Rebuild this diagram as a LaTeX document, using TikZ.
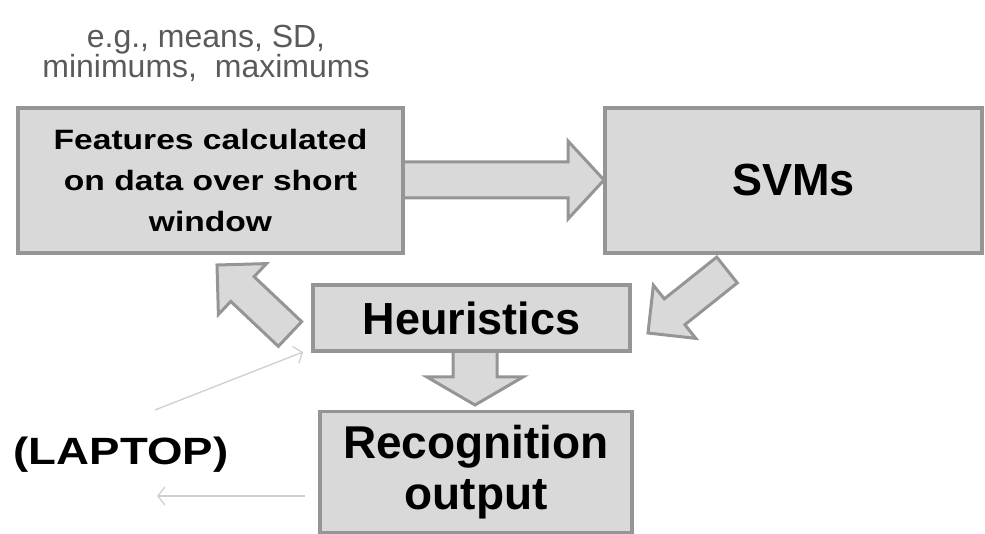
\documentclass[tikz,border=0pt]{standalone}
\usepackage{fontspec}
\setmainfont{Liberation Sans}
\newfontfamily\widesans[FakeStretch=1.2]{Liberation Sans}
\usetikzlibrary{calc,arrows.meta}
\pgfdeclarelayer{background}
\pgfsetlayers{background,main}
\definecolor{boxfill}{HTML}{D9D9D9}
\definecolor{boxline}{HTML}{959595}
\definecolor{notegray}{HTML}{5A5A5A}
\definecolor{thinline}{HTML}{CFCFCF}
\tikzset{
  stepbox/.style={draw=boxline, fill=boxfill, line width=3.5pt, inner sep=0pt,
    align=center},
  blockarrow/.style={draw=boxline, fill=boxfill, line width=3pt, line join=miter},
  faintarrow/.style={draw=thinline, line width=1.3pt,
    -{Straight Barb[length=7pt,width=18pt,line width=1.3pt]}},
}
% block arrow: tail, tip, half body width, half head width, head length
\newcommand\blockarr[5]{%
  \coordinate (ba-base) at ($(#2)!#5!(#1)$);
  \draw[blockarrow] ($(#1)!#3!90:(#2)$) -- ($(ba-base)!#3!90:(#2)$)
    -- ($(ba-base)!#4!90:(#2)$) -- (#2) -- ($(ba-base)!#4!-90:(#2)$)
    -- ($(ba-base)!#3!-90:(#2)$) -- ($(#1)!#3!-90:(#2)$) -- cycle;}
\begin{document}
\begin{tikzpicture}[x=1pt,y=-1pt]
\useasboundingbox (0,0) rectangle (985,534);

% processing stages
\node[stepbox, minimum width=385pt, minimum height=145pt,
  font=\widesans\bfseries\fontsize{28}{41}\selectfont] (feat) at (210.5,180.5)
  {Features calculated\\ on data over short\\ window};
\node[stepbox, minimum width=377pt, minimum height=145pt,
  font=\bfseries\fontsize{45}{50}\selectfont] (svm) at (793.5,180.5) {SVMs};
\node[stepbox, minimum width=317pt, minimum height=66pt,
  font=\bfseries\fontsize{45}{50}\selectfont] (heur) at (471.5,318) {Heuristics};
\node[stepbox, minimum width=312pt, minimum height=121pt,
  font=\bfseries\fontsize{46}{51}\selectfont] (rec) at (476,472)
  {Recognition\\ output};

% annotation and device label
\node[text=notegray, align=center, font=\fontsize{32}{30}\selectfont] (note) at (206,53)
  {e.g., means, SD,\\ minimums,\ \ maximums};
\node[font=\widesans\bfseries\fontsize{38}{40}\selectfont] (laptop) at (121,455) {(LAPTOP)};

% block arrows between stages
\coordinate (fs-tail) at (403,180);
\coordinate (fs-tip) at (604,180);
\coordinate (hf-tail) at (290,334);
\coordinate (hf-tip) at (217,265);
\coordinate (sh-tail) at (727,270);
\coordinate (sh-tip) at (648,333);
\coordinate (hr-tail) at (475,351);
\coordinate (hr-tip) at (475,405);
\begin{pgfonlayer}{background}
  \blockarr{fs-tail}{fs-tip}{18pt}{39pt}{36pt}
  \blockarr{hr-tail}{hr-tip}{22pt}{48pt}{28pt}
\end{pgfonlayer}
\blockarr{hf-tail}{hf-tip}{17pt}{35pt}{35pt}
\blockarr{sh-tail}{sh-tip}{16.5pt}{34pt}{34pt}

% thin links to and from the laptop
\coordinate (lap-out) at (155,410);
\coordinate (heur-in) at (303,352);
\coordinate (rec-out) at (305,496);
\coordinate (lap-in) at (157,496);
\draw[faintarrow] (lap-out) -- (heur-in);
\draw[faintarrow] (rec-out) -- (lap-in);
\end{tikzpicture}
\end{document}
